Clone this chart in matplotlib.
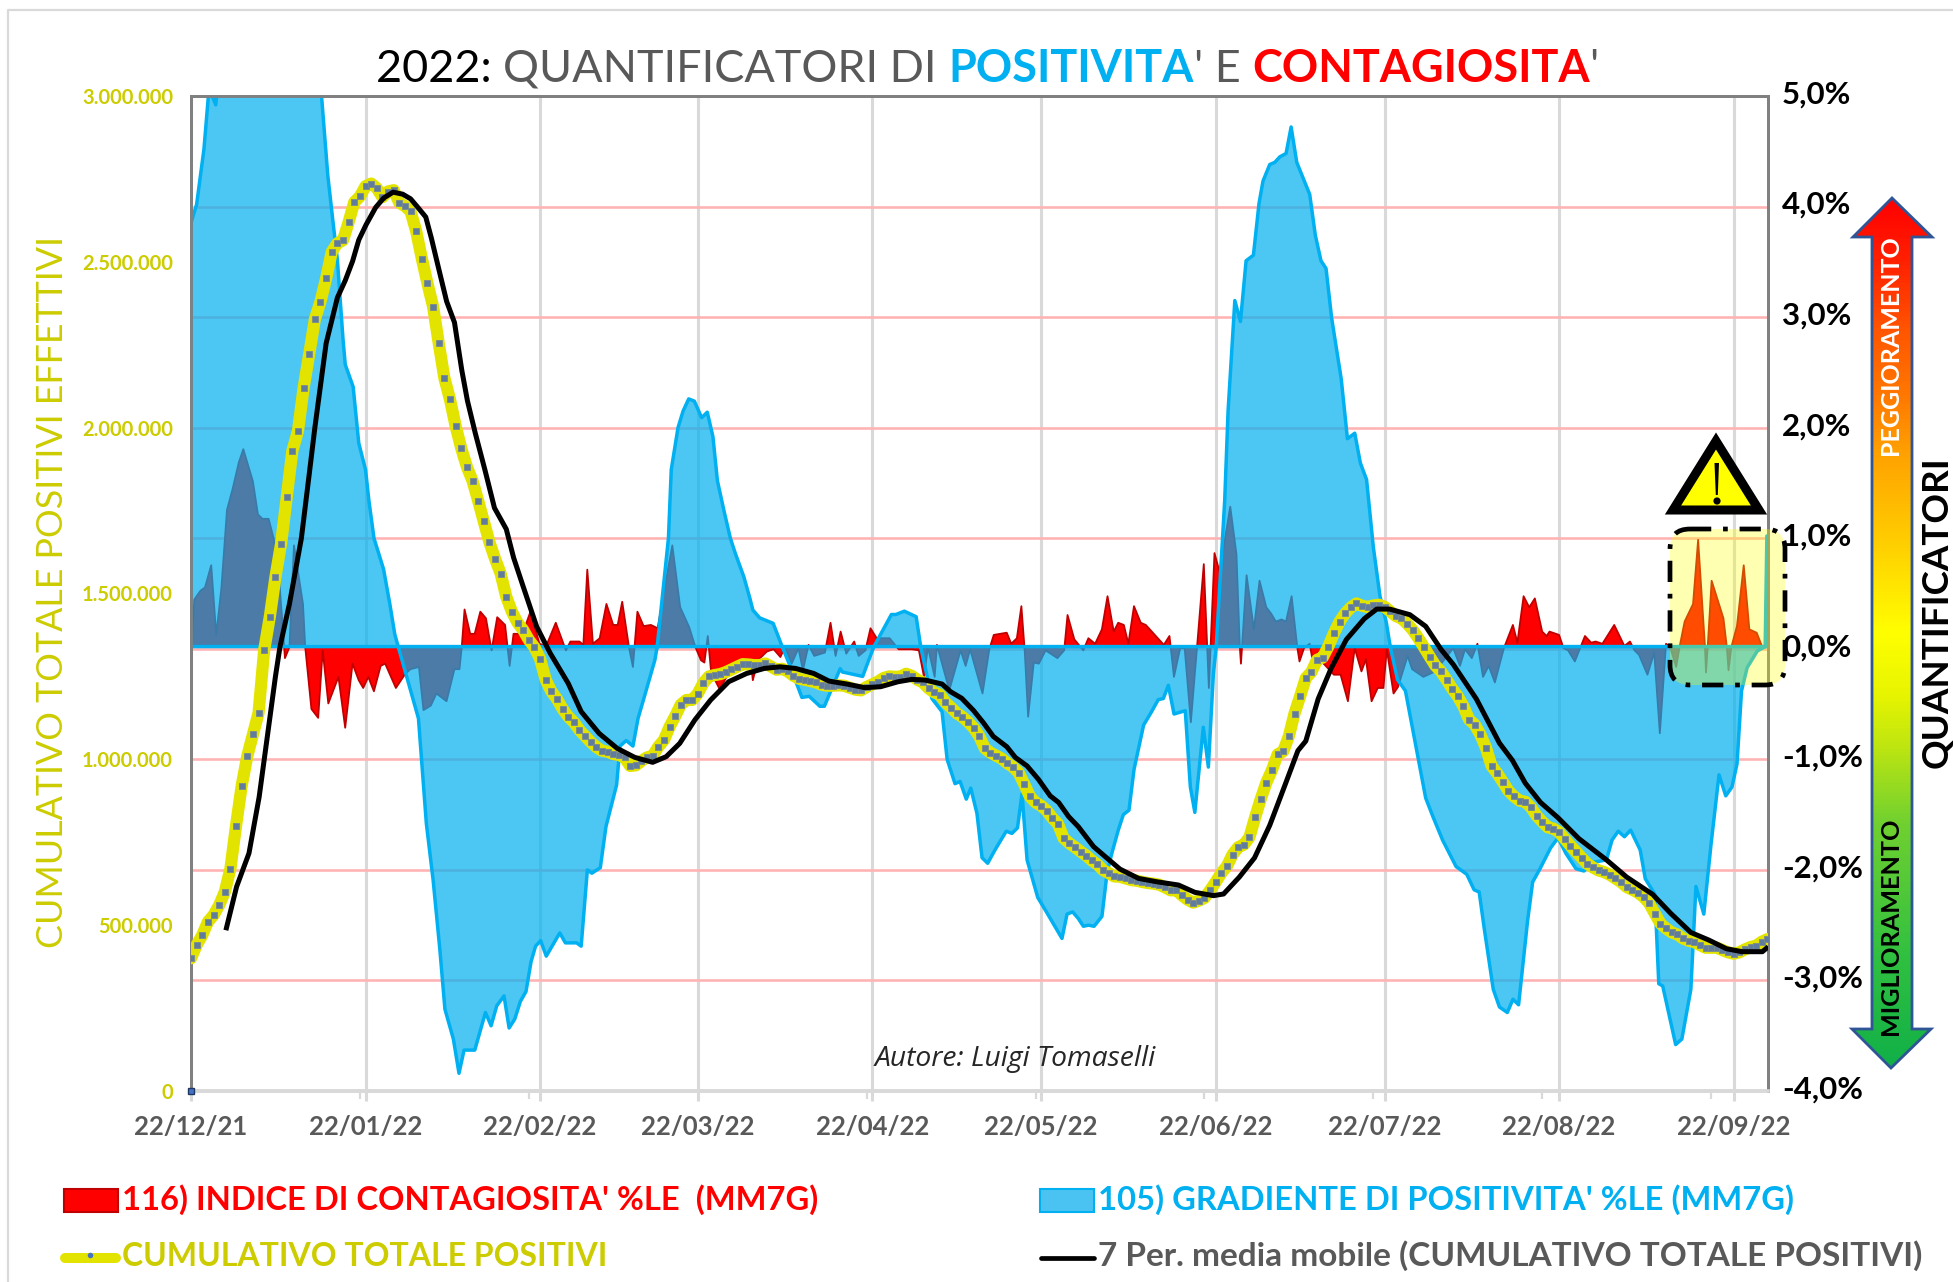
import numpy as np
import pandas as pd
import matplotlib
matplotlib.use('Agg')
import matplotlib.pyplot as plt
from matplotlib.colors import LinearSegmentedColormap
from matplotlib.lines import Line2D
from matplotlib.patches import FancyBboxPatch, Polygon
from matplotlib.transforms import ScaledTranslation

W, H = 1953, 1282
plt.rcParams['font.family'] = ['Lato', 'DejaVu Sans']

# date di riferimento dell'asse x
start = pd.Timestamp('2021-12-22')
tick_dates = pd.date_range(start, periods=10, freq=pd.DateOffset(months=1))
tick_days = [(d - start).days for d in tick_dates]
tick_labels = [d.strftime('%d/%m/%y') for d in tick_dates]
minor_days = [30, 60, 90, 120, 150, 180, 210, 240, 270]

left_ticks = [0, 500000, 1000000, 1500000, 2000000, 2500000, 3000000]
left_labels = ['0', '500.000', '1.000.000', '1.500.000', '2.000.000', '2.500.000', '3.000.000']
right_ticks = [-4, -3, -2, -1, 0, 1, 2, 3, 4, 5]
right_labels = ['-4,0%', '-3,0%', '-2,0%', '-1,0%', '0,0%', '1,0%', '2,0%', '3,0%', '4,0%', '5,0%']

# 105) gradiente di positivita' %
blue_days = [0, 1, 2.3, 3.2, 4.4, 5, 8, 14, 20, 23, 24.3, 25.2, 26, 27, 27.4, 28.8, 29.8, 31, 31.6, 32.5,
             34.2, 35.3, 36.2, 36.8, 40.4, 41.8, 43, 44.2, 45.1, 46.6, 47.6, 48.5, 50.4, 52.3, 53.3, 54.3,
             55.6, 56.5, 57.5, 58.5, 59.5, 60.4, 61.2, 62.1, 63.1, 65.5, 66.5, 68.5, 69.3, 70.4, 71.2,
             72.7, 73.7, 75.6, 76.2, 77.3, 78.5, 79.4, 80.6, 82.4, 82.8,
             84.8, 85.3, 86.5, 87.4, 88.4, 89.4, 90.7, 91.7, 92.7, 93.5, 94.7, 95.8, 96.7, 98.2, 99.3, 99.8,
             101, 103.4, 105, 106.2, 108.5, 109.8, 111.7, 112.5, 115.3, 115.7, 119.3, 120.4, 121.3,
             124.4, 125.2, 126.7, 128.8, 129.6, 131.6, 133.4, 134.3, 135.7, 136.6, 137.7, 138.5, 139.6,
             140.5, 141.5, 142.8, 144.8, 145.8, 146.8, 147.6, 148.5, 150.4, 151.7, 154.7, 155.6, 156.6,
             157.6, 158.5, 159.4, 160.4, 161.8, 162.7, 163.5, 164.7, 165.6, 166.6, 167.5, 169.2, 170.6,
             171.8, 172.7, 173.6, 174.6, 176.6, 177.5, 178.3, 179.8, 180.7, 181.6, 182.1,
             183.6, 184.2, 185.4, 186.4, 187.4, 188.7, 189.7, 190.4, 191.6, 192.5, 193.4, 194.5, 195.4,
             196.4, 198.7, 199.7, 200.7, 201.6, 202.6, 204.3, 205.4, 206.7, 207.7, 208.8, 210, 211.2,
             212.3, 213, 214.3, 215.7, 219.3, 220.6, 222.3, 224.7, 226.6, 227.9, 228.8, 229.7, 231.3,
             232.4, 233.8, 234.8, 235.8, 237.4, 238.3, 239.6, 241.5, 242.8, 244.2, 246, 247.4, 249.2,
             251.4, 252.4, 253.5, 254.6, 255.7, 257.4, 258.3, 260, 260.7, 261.4, 263.7, 264.8, 266.4,
             267.3, 268.7, 270, 271.4, 272.6, 273.7, 274.6, 275.4, 276.4, 278.2, 279.6, 279.9, 280.1]
blue_pct = [3.83, 4.0, 4.5, 5.05, 4.9, 5.2, 5.6, 5.9, 5.7, 5.1, 4.26, 3.85, 3.5, 2.78, 2.55, 2.35, 1.84, 1.6,
            1.32, 0.98, 0.7, 0.39, 0.11, 0, -0.65, -1.6, -2.11, -2.74, -3.28, -3.55, -3.86, -3.65, -3.65,
            -3.31, -3.43, -3.25, -3.16, -3.45, -3.37, -3.21, -3.12, -2.85, -2.71, -2.66, -2.8, -2.59, -2.68,
            -2.68, -2.71, -2.02, -2.05, -2.0, -1.63, -1.25, -0.9, -0.85, -0.9, -0.65, -0.44, -0.12, 0,
            0.98, 1.6, 1.98, 2.13, 2.24, 2.22, 2.07, 2.12, 1.9, 1.5, 1.22, 0.98, 0.84, 0.63, 0.43, 0.33,
            0.26, 0.21, 0, -0.15, -0.46, -0.45, -0.54, -0.54, -0.2, -0.23, -0.27, -0.12, 0,
            0.29, 0.29, 0.32, 0.27, 0, -0.47, -0.59, -1.02, -1.24, -1.22, -1.38, -1.28, -1.51,
            -1.91, -1.96, -1.84, -1.67, -1.69, -1.64, -1.33, -1.93, -2.27, -2.38, -2.64, -2.42, -2.4,
            -2.46, -2.53, -2.52, -2.53, -2.44, -2.05, -1.88, -1.66, -1.52, -1.48, -1.11, -0.71, -0.59,
            -0.48, -0.47, -0.35, -0.61, -0.58, -1.27, -1.5, -0.73, -1.09, -0.24, 0,
            1.32, 2.13, 3.13, 2.94, 3.49, 3.54, 4.01, 4.21, 4.36, 4.38, 4.43, 4.46, 4.7,
            4.38, 4.09, 3.72, 3.49, 3.42, 2.97, 2.42, 1.88, 1.93, 1.66, 1.51, 0.9, 0.45,
            0.22, 0, -0.3, -0.4, -1.37, -1.54, -1.75, -1.99, -2.06, -2.2, -2.22, -2.55, -3.1,
            -3.26, -3.31, -3.19, -3.24, -2.48, -2.13, -2.01, -1.82, -1.73, -1.87, -2.01, -2.03, -1.95,
            -1.93, -1.75, -1.67, -1.72, -1.66, -1.84, -2.1, -2.24, -3.05, -3.07, -3.6, -3.55, -3.1,
            -2.17, -2.42, -1.78, -1.16, -1.35, -1.27, -1.06, -0.4, -0.19, -0.04, 0, 1.0, 1.0]

# 116) indice di contagiosita' %
red_days = [0, 0.5, 1.6, 2.4, 3.5, 4.4, 5.3, 6.3, 7.3, 8.4, 9.2, 10.9, 11.8, 12.6, 13.7, 14.6, 15.5, 16.6, 17.4,
            18.2, 19.8, 20.2, 21.3, 22.5, 23.3, 24.3, 26.1, 27.3, 28.6, 29.7, 30.5, 31.4, 32.4, 33.6, 34.4,
            36.3, 38, 38.9, 40.4, 41.2, 42.5, 43.5, 45.3, 46.7, 47.6, 48, 48.5, 49.5, 50.3, 51.3, 52.3,
            53.3, 54.3, 55.7, 56.5, 57.2, 58.8, 60.2, 61.8, 63, 64.7, 66.5, 67.3, 68.9, 69.6, 70.3, 71.3,
            72.5, 73.7, 74.9, 75.7, 76.5, 77.7, 78.4, 79.2, 80.3, 81.6, 82.8, 83.6, 85.4, 86.8, 88.4, 89.5,
            90.5, 91.1, 91.7, 92.3, 93.8, 95.5, 97.9, 99.5, 99.7, 100.6, 102.2, 103.4, 104.6, 105.4,
            106.6, 107.8, 108.6, 109.6, 110.6, 112.5, 113.5, 114.4, 115.3, 116.3, 117.7, 118.5, 119.7,
            120.6, 121.7, 124, 125.6, 128, 129.2, 130.1, 130.8, 132, 132.4, 134.6, 136.6, 137.5, 138.3,
            140.5, 141.7, 142.5, 144.8, 145.6, 146.6, 147.4, 148, 148.6, 149.6, 150.5, 151.7, 153.8,
            155, 155.6, 156.8, 158.4, 159.3, 160.5, 161.7, 162.7, 163.8, 164.6, 165.6, 166.4, 167.4,
            168.6, 169.5, 172.7, 173.7, 174.5, 175.6, 176.4, 177.5, 178.6, 179.8, 180.7, 181.7, 182.6,
            184.5, 185.6, 186.2, 186.4, 187.4, 188.7, 189.7, 190.9, 191.8, 192.6, 193.6, 194.4, 195.4,
            196.4, 196.8, 197.6, 198.6, 199.2, 200.9, 202.9, 204.1, 205.4, 206.6, 207.8, 208.6, 209.6,
            210.7, 211.7, 212.3, 213.5, 214.3, 216, 216.8, 218.8, 220.9, 224.1, 225.3, 226.2, 227.4,
            228.4, 229.4, 230.4, 231.5, 233.1, 234.7, 235.5, 236.6, 237.6, 238.6, 239.9, 240.7, 241.2,
            242.9, 243.7, 244.5, 245.7, 247.5, 248.6, 249.4, 250.6, 252.7, 254.5, 255.5, 256.3, 257.1,
            258.6, 259.8, 260.8, 261.9, 262.7, 263.7, 264.3, 265.2, 266.7, 267.6, 268.8, 269, 269.3,
            270, 272.1, 272.7, 273, 273.5, 274.5, 275.7, 276.7, 278, 279]
red_pct = [0, 0.43, 0.51, 0.54, 0.74, 0.11, 0.53, 1.24, 1.43, 1.67, 1.79, 1.5, 1.2, 1.16, 1.16, 0.98, 0.67, -0.1, 0,
           0.92, 0.39, 0, -0.56, -0.64, -0.03, -0.51, -0.27, -0.73, -0.15, -0.3, -0.37, -0.27, -0.4, -0.17, -0.15,
           -0.37, -0.24, -0.2, -0.18, -0.57, -0.53, -0.42, -0.49, -0.2, -0.2, 0, 0.34, 0.12, 0.12, 0.32, 0.26,
           -0.03, 0.27, 0.2, -0.17, 0.12, 0.12, 0.32, 0.03, 0.01, 0.22, -0.03, 0.05, 0.05, 0.02, 0.7, 0.03,
           0.08, 0.39, 0.2, 0.2, 0.41, 0, -0.18, 0.32, 0.19, 0.2, 0.17, 0.41, 0.92, 0.36, 0.18, 0,
           -0.12, -0.14, 0.1, -0.23, -0.38, -0.23, -0.15, -0.2, -0.3, -0.12, -0.04, -0.02, -0.09, 0,
           -0.15, -0.01, -0.21, 0.02, -0.08, -0.05, 0.22, -0.08, 0.14, -0.06, 0.05, -0.08, -0.03,
           0.17, 0.08, 0.08, -0.02, -0.02, -0.03, -0.27, 0, -0.27, 0.02, -0.39, -0.03, -0.17, -0.02,
           -0.42, -0.02, 0.11, 0.13, 0.03, 0.08, 0.37, -0.04, -0.63, -0.14, -0.15, -0.03, -0.1,
           -0.03, 0.29, 0.07, -0.03, 0.08, 0.03, 0.16, 0.46, 0.14, 0.22, 0.2, 0.03, 0.37,
           0.22, 0.2, 0.02, 0.1, -0.27, -0.01, -0.01, -0.68, 0, 0.75, -0.37, 0.85, 0.68,
           1.27, 0.84, 0, -0.15, 0.65, 0.16, 0.6, 0.36, 0.3, 0.23, 0.25, 0.23, 0.46,
           0, -0.13, -0.01, 0.03, -0.14, -0.14, -0.25, -0.25, -0.49, -0.01, -0.22, -0.11, -0.49,
           -0.37, -0.37, -0.02, -0.42, -0.36, -0.08, -0.2, -0.27, -0.22, -0.01, -0.17, -0.02, -0.1,
           0.03, -0.27, -0.17, -0.32, -0.01, 0.2, 0.04, 0.46, 0.36, 0.44, 0.14, 0.1, 0.14,
           0.11, -0.01, -0.03, -0.13, 0.1, 0.04, 0.05, 0.03, 0.2, 0.01, 0.05, -0.03, -0.07,
           -0.25, -0.05, -0.78, 0.03, -0.01, -0.18, 0, 0.23, 0.39, 0.97, 0.02, -0.23, 0,
           0.6, 0.26, 0, -0.21, 0, 0.19, 0.74, 0.16, 0.13, 0]

# cumulativo totale positivi, un valore al giorno (migliaia)
yellow_k = [400, 440, 470, 510, 530, 560, 600, 670, 800, 920, 1010, 1075, 1140, 1330, 1430, 1550, 1650, 1790, 1930, 1990,
            2120, 2222, 2327, 2380, 2450, 2530, 2556, 2565, 2620, 2680, 2697, 2728, 2736, 2722, 2695, 2712, 2716, 2678, 2668, 2652,
            2592, 2510, 2435, 2365, 2255, 2150, 2085, 2005, 1938, 1882, 1840, 1780, 1718, 1655, 1605, 1560, 1490, 1445, 1412, 1390,
            1360, 1338, 1303, 1240, 1205, 1182, 1152, 1129, 1112, 1088, 1070, 1052, 1037, 1026, 1023, 1016, 1013, 1006, 980, 982,
            995, 1006, 1010, 1038, 1058, 1098, 1130, 1165, 1179, 1179, 1198, 1230, 1250, 1254, 1257, 1263, 1271, 1279, 1287, 1286,
            1284, 1284, 1289, 1280, 1270, 1273, 1265, 1252, 1243, 1240, 1236, 1232, 1225, 1222, 1222, 1223, 1222, 1216, 1210, 1208,
            1218, 1226, 1234, 1245, 1250, 1249, 1249, 1258, 1252, 1240, 1232, 1214, 1202, 1195, 1172, 1156, 1139, 1128, 1113, 1095,
            1070, 1033, 1020, 1011, 1002, 988, 977, 960, 925, 888, 870, 860, 845, 823, 805, 762, 747, 735, 722, 710,
            695, 683, 666, 657, 647, 646, 641, 636, 634, 630, 627, 625, 622, 614, 605, 606, 590, 577, 568, 574,
            582, 605, 630, 657, 678, 713, 735, 743, 765, 825, 880, 930, 968, 1015, 1024, 1070, 1138, 1190, 1245, 1263,
            1300, 1307, 1340, 1380, 1415, 1440, 1458, 1470, 1463, 1459, 1464, 1466, 1460, 1446, 1432, 1425, 1409, 1390, 1365, 1338,
            1310, 1283, 1265, 1240, 1213, 1190, 1160, 1120, 1105, 1075, 1035, 980, 958, 932, 905, 888, 875, 872, 855, 830,
            812, 795, 791, 780, 760, 740, 722, 703, 685, 674, 665, 660, 652, 641, 630, 615, 607, 598, 585, 566,
            535, 505, 490, 478, 472, 460, 453, 449, 440, 432, 432, 432, 425, 418, 414, 418, 427, 434, 438, 450, 458]

# media mobile a 7 periodi (migliaia)
black_days = [6.3, 8.1, 10.3, 12.1, 13.6, 15, 15.8, 17.5, 19.6, 21, 22, 24, 26, 27.4, 28.7, 29.8, 31.1, 32.8, 34.2, 35.9,
              37.6, 39, 40.3, 41.7, 42.7, 44, 45.4, 46.8, 48.1, 49.1, 50.5, 52.2, 53.9, 56, 57.3, 59, 61.4, 63.8, 67, 69.3,
              72.5, 75.7, 78.8, 82, 84.4, 86.8, 89.5, 92.3, 95.5, 98.7, 101.8, 104.6, 107.4, 110.6, 113.3, 116.5, 119.7,
              122.5, 125.6, 128, 130.4, 133.4, 134.9, 136.9, 139, 140.8, 142.5, 144.9, 146.4, 148.5, 150.5, 152.6, 154.1,
              155.9, 157.6, 160.3, 162.7, 165, 168.3, 171.5, 175.4, 178.3, 181.6, 183.4, 186.2, 188.9, 191.6, 194.3, 196.6,
              198, 200.2, 202.5, 205.2, 208.4, 210.6, 212.9, 216.5, 219.3, 222, 224.2, 228.3, 232.4, 234.7, 237, 239.7,
              242.8, 246.5, 251.4, 255, 259.6, 262.8, 266.4, 269.6, 272.7, 275.5, 279.1, 279.8]
black_k = [492, 616, 717, 886, 1074, 1250, 1339, 1470, 1666, 1860, 2000, 2254, 2392, 2444, 2502, 2566, 2612, 2664, 2692, 2710,
           2704, 2690, 2664, 2635, 2571, 2479, 2381, 2317, 2173, 2081, 1983, 1873, 1758, 1694, 1608, 1521, 1400, 1320, 1229, 1144,
           1078, 1033, 1006, 991, 1008, 1048, 1119, 1179, 1234, 1259, 1274, 1279, 1274, 1259, 1236, 1227, 1216,
           1219, 1234, 1241, 1239, 1227, 1204, 1184, 1147, 1109, 1069, 1038, 1006, 980, 940, 890, 870,
           827, 797, 737, 702, 669, 641, 631, 621, 599, 589, 594, 645, 703, 801, 922, 1026,
           1055, 1182, 1274, 1361, 1424, 1453, 1453, 1436, 1401, 1332, 1286, 1182, 1049, 997, 928, 870,
           824, 761, 697, 645, 593, 536, 478, 455, 429, 420, 420, 430]

RED = '#ff0000'
BLUE = '#00b0f0'
OLIVE = '#cccc00'
GRAY = '#595959'
base = 0.02  # la linea dello zero delle aree sta poco sopra la griglia

fig = plt.figure(figsize=(W / 100, H / 100), dpi=100, facecolor='white')
ax2 = fig.add_axes([191 / W, 1 - 1091 / H, (1768 - 191) / W, 995 / H])
ax = ax2.twinx()
ax2.yaxis.tick_right()
ax.yaxis.tick_left()
ax.set_zorder(ax2.get_zorder() + 1)
ax.patch.set_visible(False)

# griglia e aree (asse destro)
ax2.set_xlim(0, 280.1)
ax2.set_ylim(-4, 5)
ax2.set_axisbelow(True)
ax2.grid(axis='y', color='#ffb4b4', lw=1.9)
for d in tick_days:
    ax2.axvline(d, color='#d9d9d9', lw=2.2, zorder=0.5)
ax2.fill_between(red_days, np.array(red_pct) + base, base, facecolor=RED, edgecolor='#c00000', lw=1.3, zorder=2)
ax2.fill_between(blue_days, np.array(blue_pct) + base, base, facecolor=BLUE, edgecolor='none', alpha=0.7, zorder=3)
ax2.fill_between(blue_days, np.array(blue_pct) + base, base, facecolor='none', edgecolor=BLUE, lw=2.5, zorder=3)
ax2.set_yticks(right_ticks)
ax2.set_yticklabels(right_labels, fontsize=22.5, fontweight='bold', color='black')
ax2.tick_params(axis='y', length=0, pad=10)
shift = ScaledTranslation(0, 4 / 100, fig.dpi_scale_trans)
for lab in ax2.get_yticklabels():
    lab.set_transform(lab.get_transform() + shift)

# curve cumulative (asse sinistro)
ax.set_ylim(0, 3000000)
ax.plot(range(len(yellow_k)), np.array(yellow_k) * 1000, color='#e3e300', lw=8.8, solid_capstyle='round', solid_joinstyle='round',
        marker='s', ms=4.2, mfc='#5f7c9c', mec='#7a8a90', mew=0.6, zorder=4)
ax.plot(black_days, np.array(black_k) * 1000, color='black', lw=3.6, solid_joinstyle='round', zorder=5)
ax.plot([0], [0], 's', ms=5, mfc='#4472c4', mec='#1f3864', mew=1, clip_on=False, zorder=6)
ax.set_yticks(left_ticks)
ax.set_yticklabels(left_labels, fontsize=14.5, fontweight='bold', color=OLIVE)
ax.tick_params(axis='y', length=0, pad=13)

ax2.set_xticks(tick_days)
ax2.set_xticklabels(tick_labels, fontsize=18.5, fontweight='bold', color=GRAY)
ax2.set_xticks(minor_days, minor=True)
ax2.tick_params(axis='x', which='major', color='#d9d9d9', width=2.2, length=7, pad=10)
ax2.tick_params(axis='x', which='minor', color='#d9d9d9', width=1.6, length=6)

for a in (ax, ax2):
    for s in ('left', 'top', 'right'):
        a.spines[s].set_color('#808080')
        a.spines[s].set_linewidth(2)
    a.spines['bottom'].set_color('#d9d9d9')
    a.spines['bottom'].set_linewidth(2.6)

# strato di annotazioni in pixel della figura
over = fig.add_axes([0, 0, 1, 1], zorder=10)
over.set_xlim(0, W)
over.set_ylim(H, 0)
over.axis('off')
over.patch.set_visible(False)

over.add_line(Line2D([8, 8, W], [H, 10, 10], color='#d9d9d9', lw=1.6))

# titolo a piu' colori
title_parts = [('2022: ', 'black', 'normal'), ('QUANTIFICATORI DI ', GRAY, 'normal'), ('POSITIVITA', BLUE, 'bold'),
               ("' E ", GRAY, 'normal'), ('CONTAGIOSITA', RED, 'bold'), ("'", GRAY, 'normal')]
rend = fig.canvas.get_renderer()
xt = 376
for txt, col, wt in title_parts:
    t = over.text(xt, 69, txt.replace(' ', '\u00a0'), fontsize=32.4, color=col, fontweight=wt, va='center', ha='left')
    xt = t.get_window_extent(rend).x1

over.text(53, 592, 'CUMULATIVO TOTALE POSITIVI EFFETTIVI', rotation=90, fontsize=25.8, color=OLIVE, ha='center', va='center')
over.text(1015, 1059, 'Autore: Luigi Tomaselli', fontsize=20.3, style='italic', family=['Open Sans', 'DejaVu Sans'], color='#262626', ha='center', va='center')

# legenda
over.add_patch(plt.Rectangle((64, 1189), 54, 23, fc=RED, ec='#c00000', lw=1.5))
over.text(122, 1200, "116) INDICE DI CONTAGIOSITA' %LE  (MM7G)", fontsize=23.6, fontweight='bold', color=RED, va='center')
over.add_patch(plt.Rectangle((1040, 1189), 54, 23, fc='#4bc3f2', ec=BLUE, lw=1.5))
over.text(1098, 1200, "105) GRADIENTE DI POSITIVITA' %LE (MM7G)", fontsize=23.6, fontweight='bold', color=BLUE, va='center')
over.plot([65, 116], [1258, 1258], color='#e3e300', lw=7.2, solid_capstyle='round')
over.plot([90], [1255], 'o', ms=4, mfc='#4472c4', mec='none')
over.text(122, 1256, 'CUMULATIVO TOTALE POSITIVI', fontsize=23, fontweight='bold', color=OLIVE, va='center')
over.plot([1041, 1094], [1258, 1258], color='black', lw=3.4, solid_capstyle='round')
over.text(1098, 1256, '7 Per. media mobile (CUMULATIVO TOTALE POSITIVI)', fontsize=24, fontweight='bold', color=GRAY, va='center')

# riquadro evidenziato e triangolo
over.add_patch(FancyBboxPatch((1685, 544), 85, 126, boxstyle='round,pad=15,rounding_size=20', fc=(1, 1, 0, 0.3), ec='none'))
over.add_patch(FancyBboxPatch((1685, 544), 85, 126, boxstyle='round,pad=15,rounding_size=20', fc='none', ec='black', lw=3.4,
                              ls=(0, (4.5, 2.5, 1, 2.5))))
over.add_patch(Polygon([(1716, 441), (1673, 510), (1759, 510)], closed=True, fc='#ffff00', ec='black', lw=6.5, joinstyle='miter'))
over.add_patch(Polygon([(1714.5, 463), (1719, 463), (1717.8, 495), (1715.8, 495)], closed=True, fc='black', ec='none'))
over.add_patch(plt.Circle((1717, 501), 3.6, fc='black', ec='none'))

# freccia a gradiente
arrow = [(1892, 198), (1932, 237), (1912, 237), (1912, 1029), (1931, 1029), (1891, 1068), (1852, 1029), (1872, 1029), (1872, 237), (1853, 237)]
stops = [(0, '#ff0000'), (0.07, '#ff2000'), (0.15, '#ff5500'), (0.23, '#ff7a00'), (0.29, '#ffa000'), (0.4, '#ffd000'),
         (0.5, '#ffff00'), (0.57, '#e8f500'), (0.63, '#bfe610'), (0.72, '#70d030'), (0.875, '#30c040'), (1, '#10b048')]
cmap = LinearSegmentedColormap.from_list('freccia', stops)
img = over.imshow(np.linspace(0, 1, 512)[:, None], cmap=cmap, extent=(1850, 1934, 1068, 198), aspect='auto', zorder=1)
patch = Polygon(arrow, closed=True, fc='none', ec='#2f5597', lw=2, joinstyle='miter', zorder=2)
over.add_patch(patch)
img.set_clip_path(patch)
over.set_xlim(0, W)
over.set_ylim(H, 0)
over.text(1890, 345, 'PEGGIORAMENTO', rotation=90, fontsize=18, fontweight='bold', color='white', ha='center', va='center', zorder=3)
over.text(1890, 926, 'MIGLIORAMENTO', rotation=90, fontsize=18.2, fontweight='bold', color='black', ha='center', va='center', zorder=3)
over.text(1937, 612, 'QUANTIFICATORI', rotation=90, fontsize=26.5, fontweight='bold', color='black', ha='center', va='center', zorder=3)

fig.savefig('out.png', dpi=100)
